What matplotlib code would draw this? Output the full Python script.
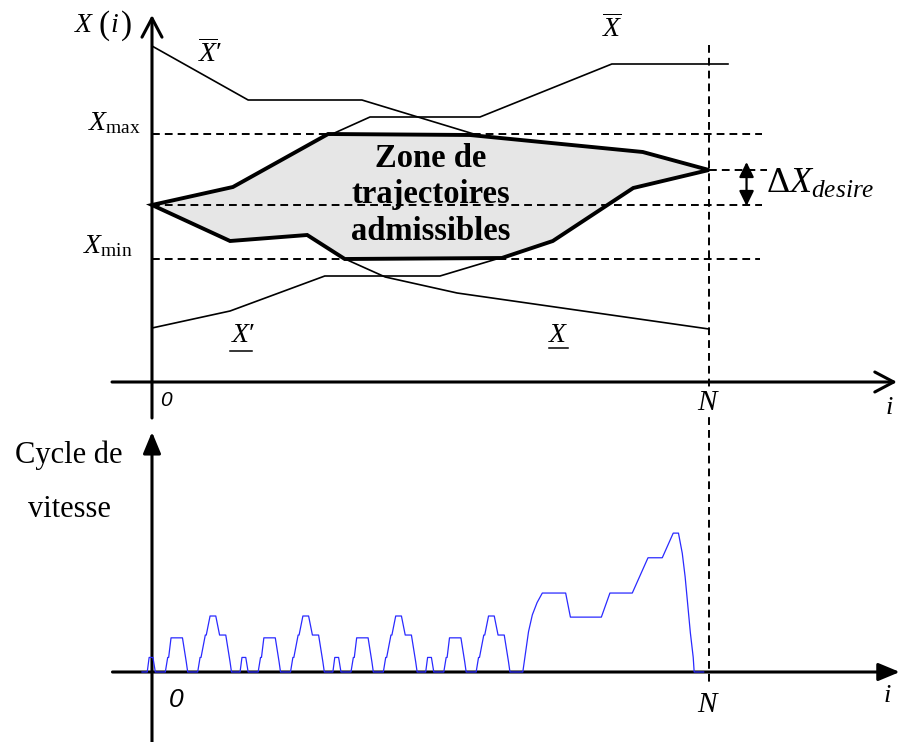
import matplotlib
matplotlib.use("Agg")
import matplotlib.pyplot as plt

plt.rcParams['font.family'] = ['Liberation Serif', 'DejaVu Serif']
plt.rcParams['mathtext.fontset'] = 'custom'
plt.rcParams['mathtext.rm'] = 'Liberation Serif'
plt.rcParams['mathtext.it'] = 'Liberation Serif:italic'
plt.rcParams['mathtext.bf'] = 'Liberation Serif:bold'

# ---------------- index axis ----------------
I_N = 1170            # last index N

# ---------------- state bounds (i, X) ----------------
X_MAX = 24.8
X_MIN = 12.3
X_START = 17.7
X_TARGET = 21.2

zone_upper_i = [0, 170, 370, 668, 1031, 1170]
zone_upper_x = [17.7, 19.5, 24.8, 24.7, 23.0, 21.2]
zone_lower_i = [1170, 1011, 842, 735, 405, 326, 164, 0]
zone_lower_x = [21.2, 19.4, 14.1, 12.4, 12.3, 14.7, 14.1, 17.7]

upper_prime_i = [0, 202, 441, 683]
upper_prime_x = [33.6, 28.2, 28.2, 24.7]
upper_i = [374, 458, 689, 966, 1210]
upper_x = [24.7, 26.5, 26.5, 31.8, 31.8]
lower_prime_i = [0, 164, 363, 605, 731]
lower_prime_x = [5.4, 7.1, 10.6, 10.6, 12.4]
lower_i = [401, 490, 641, 1170]
lower_x = [12.4, 10.5, 8.9, 5.3]

# ---------------- speed cycle (time s, speed km/h) ----------------
CYCLE_START = -21
N_URBAN = 4
URBAN_PERIOD = 195
ece_t = [0, 11, 15, 23, 28, 49, 54, 56, 61, 85, 93, 96,
         117, 122, 124, 133, 135, 143, 155, 163, 176, 185, 188, 195]
ece_v = [0, 0, 13, 13, 0, 0, 13, 13, 30.5, 30.5, 9, 0,
         0, 13, 13, 33, 33, 50, 50, 33, 33, 9, 0, 0]
eudc_t = [780, 800, 806, 812, 820, 830, 841, 890, 900, 965, 983, 1030,
          1063, 1093, 1116, 1127, 1135, 1141, 1152, 1158, 1160, 1180]
eudc_v = [0, 0, 18, 36, 51, 62, 70.5, 70.5, 49, 49, 70.5, 70.5,
          102, 102, 124, 124, 106, 85, 35, 13, 0, 0]

speed_t, speed_v = [], []
for k in range(N_URBAN):
    speed_t += [CYCLE_START + k * URBAN_PERIOD + t for t in ece_t]
    speed_v += ece_v
speed_t += [CYCLE_START + t for t in eudc_t]
speed_v += eudc_v

# ---------------- figure ----------------
W, H = 902, 742
fig = plt.figure(figsize=(W / 100, H / 100), dpi=100)
split = 420 / H
ax = fig.add_axes([0, 1 - split, 1, split])
bx = fig.add_axes([0, 0, 1, 1 - split])
for a in (ax, bx):
    a.set_axis_off()
    a.patch.set_visible(False)
    a.set_xlim(-319.3, 1575.6)
ax.set_ylim(-3.8, 38.2)
bx.set_ylim(-62.5, 225)

K = 'black'
DASH = (0, (4, 2.6))
open_head = dict(arrowstyle='->,head_length=0.68,head_width=0.36',
                 lw=2.2, color=K, shrinkA=0, shrinkB=0, mutation_scale=20)
solid_head = dict(arrowstyle='-|>,head_length=0.65,head_width=0.27',
                  lw=2.2, color=K, shrinkA=0, shrinkB=0, mutation_scale=20)

# ---- top panel axes ----
ax.annotate('', xy=(0, 36.7), xytext=(0, -3.6), arrowprops=open_head,
            annotation_clip=False)
ax.annotate('', xy=(1565, 0), xytext=(-84, 0), arrowprops=open_head,
            annotation_clip=False)

# admissible zone
ax.fill(zone_upper_i + zone_lower_i, zone_upper_x + zone_lower_x,
        facecolor='#e6e6e6', edgecolor=K, lw=2.8, zorder=1)

# reference levels
ax.plot([0, 1281], [X_MAX, X_MAX], ls=DASH, lw=1.4, color=K, zorder=2)
ax.plot([0, 1281], [X_START, X_START], ls=DASH, lw=1.4, color=K, zorder=2)
ax.plot([0, 1277], [X_MIN, X_MIN], ls=DASH, lw=1.4, color=K, zorder=2)
ax.plot([I_N, 1291], [X_TARGET, X_TARGET], ls=DASH, lw=1.4, color=K, zorder=2)
ax.plot([I_N, I_N], [33.7, -30], ls=DASH, lw=1.4, color=K, zorder=2,
        clip_on=False)

# envelopes
for xi, xv in ((upper_prime_i, upper_prime_x), (upper_i, upper_x),
               (lower_prime_i, lower_prime_x), (lower_i, lower_x)):
    ax.plot(xi, xv, color=K, lw=1.2, zorder=3)

# tolerance on the final state
ax.annotate('', xy=(1249, 22.0), xytext=(1249, 17.6),
            arrowprops=dict(arrowstyle='<|-|>,head_length=0.45,head_width=0.22',
                            lw=1.6, color=K, shrinkA=0, shrinkB=0,
                            mutation_scale=20))
ax.text(1290, 18.9, r'$\Delta X_{desire}$', fontsize=26, ha='left',
        va='baseline')

# axis title X(i), with tall parentheses
ax.text(-141, 35.0, r'$X$', fontsize=20, ha='center', va='baseline')
ax.text(-100, 35.6, '(', fontsize=24, ha='center', va='center')
ax.text(-79, 35.0, r'$i$', fontsize=20, ha='center', va='baseline')
ax.text(-54, 35.6, ')', fontsize=24, ha='center', va='center')

ax.text(-23, 25.2, r'$X_{\mathrm{max}}$', fontsize=20, ha='right',
        va='baseline')
ax.text(-40, 12.9, r'$X_{\mathrm{min}}$', fontsize=20, ha='right',
        va='baseline')
ax.text(122, 32.8, r"$\overline{X}\prime$", fontsize=20, ha='center',
        va='center')
ax.text(968, 35.3, r'$\overline{X}$', fontsize=20, ha='center', va='center')
ax.text(191, 4.6, r"$X\prime$", fontsize=20, ha='center', va='center')
ax.plot([164, 210], [3.1, 3.1], color=K, lw=1.1)
ax.text(853, 4.6, r'$X$', fontsize=20, ha='center', va='center')
ax.plot([833, 873], [3.4, 3.4], color=K, lw=1.1)

for txt, yv in (('Zone de', 21.5), ('trajectoires', 17.9),
                ('admissibles', 14.2)):
    ax.text(586, yv, txt, fontsize=23.5, fontweight='bold', ha='center',
            va='baseline', zorder=4)

ax.text(29, -1.8, '0', family='Liberation Sans', style='italic',
        fontsize=15, ha='center', va='center')
ax.text(I_N, -2.1, r'$N$', fontsize=21, ha='center', va='center',
        bbox=dict(facecolor='white', edgecolor='none', pad=1), zorder=5)
ax.text(1548, -2.6, r'$i$', fontsize=19, ha='center', va='center')

# ---- bottom panel ----
bx.annotate('', xy=(0, 214.3), xytext=(0, -62.5), arrowprops=solid_head,
            annotation_clip=False)
bx.annotate('', xy=(1571, 0), xytext=(-83, 0), arrowprops=solid_head,
            annotation_clip=False)
bx.plot(speed_t, speed_v, color='#2a2aff', lw=0.9, zorder=4)

bx.text(-174, 186.6, 'Cycle de', fontsize=22, ha='center', va='baseline')
bx.text(-174, 138.4, 'vitesse', fontsize=22, ha='center', va='baseline')
bx.text(50, -25, '0', family='Liberation Sans', style='italic',
        fontsize=19, ha='center', va='center')
bx.text(I_N, -29.5, r'$N$', fontsize=21, ha='center', va='center')
bx.text(1544, -21.4, r'$i$', fontsize=19, ha='center', va='center')

fig.savefig('out.png', dpi=100)
